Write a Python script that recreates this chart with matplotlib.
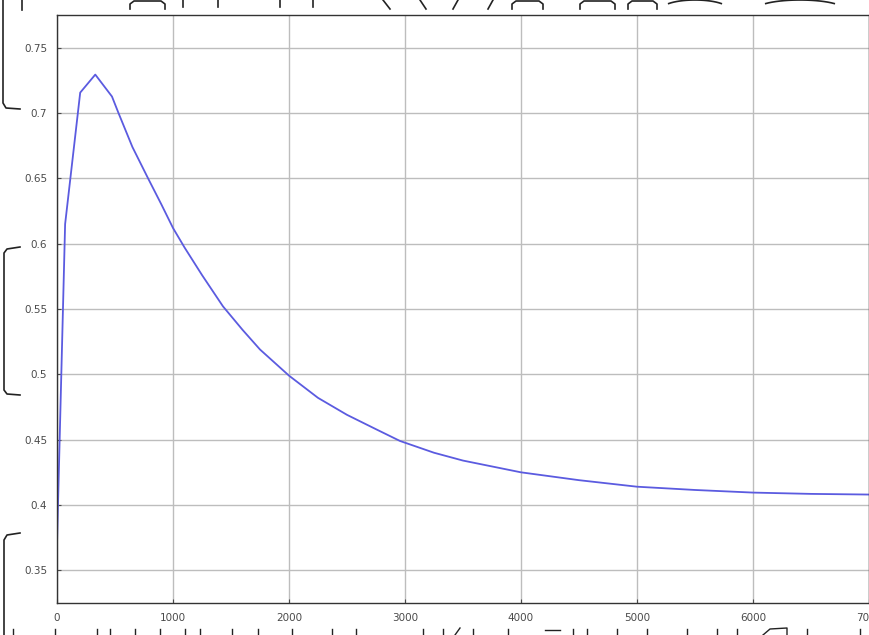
import matplotlib
matplotlib.use("Agg")
import matplotlib.pyplot as plt
from matplotlib.lines import Line2D
import numpy as np

# values
t = [0, 70, 200, 330, 474, 530, 650, 785, 900, 1000, 1100, 1250, 1431, 1600,
     1750, 1900, 2000, 2250, 2500, 2750, 2957, 3250, 3500, 4000, 4500, 5000,
     5500, 6000, 6500, 7000]
y = [0.37, 0.615, 0.7156, 0.7294, 0.7126, 0.700, 0.674, 0.650, 0.630, 0.612,
     0.597, 0.576, 0.552, 0.534, 0.519, 0.507, 0.499, 0.482, 0.469, 0.458,
     0.449, 0.440, 0.434, 0.425, 0.419, 0.414, 0.4115, 0.4095, 0.4085, 0.408]

xticks = [0, 1000, 2000, 3000, 4000, 5000, 6000, 7000]
yticks = [0.35, 0.4, 0.45, 0.5, 0.55, 0.6, 0.65, 0.7, 0.75]
ytick_labels = ["0.35", "0.4", "0.45", "0.5", "0.55", "0.6", "0.65", "0.7", "0.75"]

fig = plt.figure(figsize=(8.69, 6.35), dpi=100)
ax = fig.add_axes([57 / 869, 32 / 635, 1 - 57 / 869, (603 - 15) / 635])

ax.plot(t, y, color="#5b5be0", lw=1.3)
ax.set_xlim(0, 7000)
ax.set_ylim(0.325, 0.775)
ax.set_xticks(xticks)
ax.set_xticklabels([str(v) for v in xticks])
ax.set_yticks(yticks)
ax.set_yticklabels(ytick_labels)
ax.tick_params(direction="in", labelsize=7.5, colors="#4a4a4a", length=3, pad=7)
ax.grid(True, color="#bdbdbd", lw=1.0)
for s in ax.spines.values():
    s.set_color("#333333")
    s.set_linewidth(1.0)

# scan artefacts round the plot (fragments of the page it was cut from)
def px_line(xs, ys, lw=1.2):
    fig.add_artist(Line2D(np.array(xs) / 869, 1 - np.array(ys) / 635,
                          transform=fig.transFigure, color="#222222", lw=lw))

px_line([3, 3, 6, 20], [0, 103, 108, 109])
px_line([20, 7, 4, 4, 7, 20], [247, 249, 253, 390, 394, 395])
px_line([20, 7, 4, 4], [533, 535, 540, 635])
px_line([22, 22], [0, 10])

# top: bits of letters
for x0, x1 in [(130, 165), (512, 543), (580, 615), (628, 657)]:
    px_line([x0, x0, x0 + 4, x1 - 4, x1, x1], [9, 4, 1, 1, 4, 9])
for xs in [183, 218, 280, 313]:
    px_line([xs, xs], [0, 7])
for x0, x1 in [(383, 390), (420, 426)]:
    px_line([x0, x1], [0, 9])
for x0, x1 in [(453, 458), (488, 493)]:
    px_line([x0, x1], [9, 0])
arc = np.linspace(0, np.pi, 30)
for x0, x1 in [(662, 728), (757, 843)]:
    cx = (x0 + x1) / 2
    rx = (x1 - x0) / 2
    sel = arc[6:24]
    px_line(cx - rx * np.cos(sel), 9 - 9 * np.sin(sel))

# bottom: short strokes
for xs in [13, 55, 97, 110, 135, 160, 185, 200, 232, 258, 292, 332, 356, 423,
           443, 473, 508, 573, 587, 617, 647, 687, 717, 737, 807, 860]:
    px_line([xs, xs], [629, 635], lw=1.0)
px_line([545, 560], [630, 630], lw=1.0)
px_line([455, 460], [635, 628], lw=1.0)
px_line([763, 770, 787, 787], [635, 629, 628, 635], lw=1.0)

fig.savefig("out.png", dpi=100)
